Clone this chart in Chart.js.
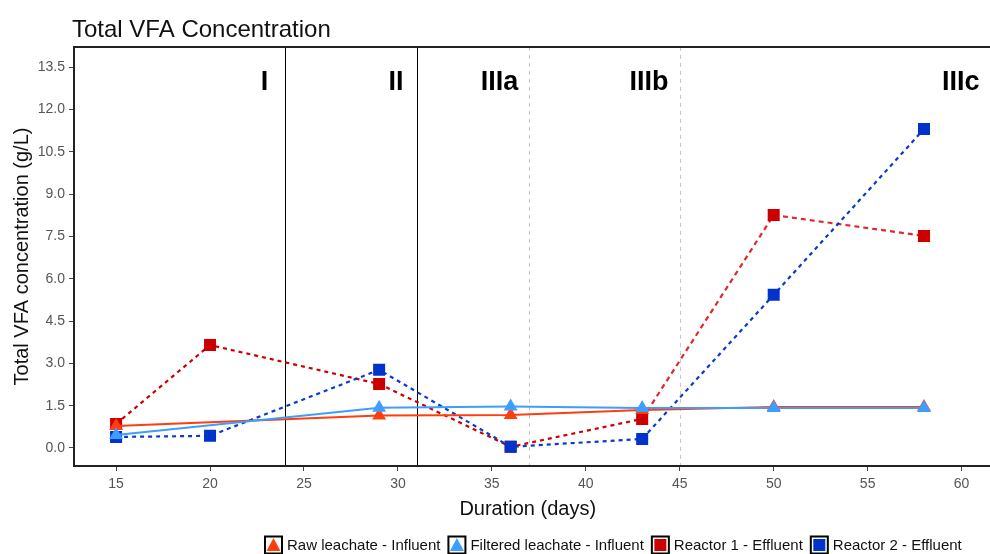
<!DOCTYPE html>
<html>
<head>
<meta charset="utf-8">
<script src="https://cdn.jsdelivr.net/npm/chart.js@4/dist/chart.umd.min.js"></script>
<style>
  html, body { margin: 0; padding: 0; background: #fff; }
  #wrap { width: 990px; height: 554px; }
</style>
</head>
<body>
<div id="wrap"><canvas id="chart" width="990" height="554"></canvas></div>
<script>
// sampling days
const days = [15, 20, 29, 36, 43, 50, 58];

// total VFA (g/L)
const rawLeachate      = [0.78, null, 1.15, 1.17, 1.35, 1.45, 1.45];
const filteredLeachate = [0.46, null, 1.43, 1.47, 1.42, 1.42, 1.42];
const reactor1         = [0.85, 3.65, 2.27, 0.04, 1.03, 8.26, 7.52];
const reactor2         = [0.39, 0.43, 2.77, 0.04, 0.32, 5.43, 11.31];

// axis ticks
const xTicks = [15, 20, 25, 30, 35, 40, 45, 50, 55, 60];
const yTicks = [0, 1.5, 3, 4.5, 6, 7.5, 9, 10.5, 12, 13.5];

// phase boundaries and labels
const phaseSolid = [24, 31];
const phaseDashed = [37, 45];
const phaseNames = ['I', 'II', 'IIIa', 'IIIb', 'IIIc'];
const phaseNameX = [23.1, 30.3, 36.4, 44.4, 60.95];

const FONT = "'Liberation Sans', Arial, sans-serif";

const toXY = (vals) => days.map((d, i) => ({ x: d, y: vals[i] })).filter(p => p.y !== null);

// phase lines, phase names, frame, title and legend
const decorations = {
  id: 'decorations',
  beforeDatasetsDraw(chart) {
    const { ctx, chartArea: a, scales: { x, y } } = chart;
    ctx.save();
    ctx.lineWidth = 1;
    ctx.strokeStyle = '#000';
    phaseSolid.forEach(v => {
      const px = Math.round(x.getPixelForValue(v)) + 0.5;
      ctx.beginPath(); ctx.moveTo(px, a.top); ctx.lineTo(px, a.bottom); ctx.stroke();
    });
    ctx.strokeStyle = '#c8c8c8';
    ctx.setLineDash([4, 4]);
    phaseDashed.forEach(v => {
      const px = Math.round(x.getPixelForValue(v)) + 0.5;
      ctx.beginPath(); ctx.moveTo(px, a.top); ctx.lineTo(px, a.bottom); ctx.stroke();
    });
    ctx.setLineDash([]);
    ctx.fillStyle = '#000';
    ctx.font = 'bold 27px ' + FONT;
    ctx.textAlign = 'right';
    ctx.textBaseline = 'alphabetic';
    phaseNames.forEach((t, i) => {
      ctx.fillText(t, x.getPixelForValue(phaseNameX[i]), y.getPixelForValue(12.7));
    });
    ctx.restore();
  },
  afterDraw(chart) {
    const { ctx, chartArea: a } = chart;
    ctx.save();
    // panel frame
    ctx.strokeStyle = '#222';
    ctx.lineWidth = 2;
    ctx.beginPath();
    ctx.moveTo(chart.width, a.top);
    ctx.lineTo(a.left, a.top);
    ctx.lineTo(a.left, a.bottom);
    ctx.lineTo(chart.width, a.bottom);
    ctx.stroke();

    // title
    ctx.fillStyle = '#111';
    ctx.font = '24px ' + FONT;
    ctx.textAlign = 'left';
    ctx.textBaseline = 'alphabetic';
    ctx.fillText('Total VFA Concentration', 72, 37);

    // legend
    ctx.font = '15px ' + FONT;
    ctx.textBaseline = 'middle';
    let lx = 265;
    const cy = 545, box = 17;
    chart.data.datasets.forEach(ds => {
      ctx.fillStyle = '#fff';
      ctx.fillRect(lx, cy - box / 2, box, box);
      ctx.fillStyle = ds.pointBackgroundColor;
      const cx = lx + box / 2;
      if (ds.pointStyle === 'triangle') {
        ctx.beginPath();
        ctx.moveTo(cx, cy - 7);
        ctx.lineTo(cx + 7, cy + 6);
        ctx.lineTo(cx - 7, cy + 6);
        ctx.closePath();
        ctx.fill();
      } else {
        ctx.fillRect(cx - 6, cy - 6, 12, 12);
      }
      ctx.strokeStyle = '#000';
      ctx.lineWidth = 2;
      ctx.strokeRect(lx, cy - box / 2, box, box);
      ctx.fillStyle = '#111';
      ctx.fillText(ds.label, lx + box + 5, cy + 1);
      lx += box + 5 + ctx.measureText(ds.label).width + 8;
    });
    ctx.restore();
  }
};

new Chart(document.getElementById('chart'), {
  type: 'line',
  data: {
    datasets: [
      {
        label: 'Raw leachate - Influent',
        data: toXY(rawLeachate),
        borderColor: '#ff3d0d',
        backgroundColor: '#ff3d0d',
        pointBackgroundColor: '#ff3d0d',
        pointStyle: 'triangle',
        pointRadius: 8,
        pointBorderWidth: 0,
        borderWidth: 2,
        order: 2
      },
      {
        label: 'Filtered leachate - Influent',
        data: toXY(filteredLeachate),
        borderColor: '#3d9eff',
        backgroundColor: '#3d9eff',
        pointBackgroundColor: '#3d9eff',
        pointStyle: 'triangle',
        pointRadius: 8,
        pointBorderWidth: 0,
        borderWidth: 2,
        order: 1
      },
      {
        label: 'Reactor 1 - Effluent',
        data: toXY(reactor1),
        borderColor: '#cc0000',
        backgroundColor: '#cc0000',
        pointBackgroundColor: '#cc0000',
        pointStyle: 'rect',
        pointRadius: 8.5,
        pointBorderWidth: 0,
        borderWidth: 2.2,
        borderDash: [4, 4],
        segment: {
          borderDash: ctx => ctx.p0DataIndex >= 4 ? [5, 4] : [4, 4],
          borderColor: ctx => ctx.p0DataIndex >= 4 ? '#e0282d' : '#cc0000'
        },
        order: 4
      },
      {
        label: 'Reactor 2 - Effluent',
        data: toXY(reactor2),
        borderColor: '#0a3acc',
        backgroundColor: '#0033cc',
        pointBackgroundColor: '#0033cc',
        pointStyle: 'rect',
        pointRadius: 8.5,
        pointBorderWidth: 0,
        borderWidth: 2.2,
        borderDash: [4, 4],
        order: 3
      }
    ]
  },
  options: {
    responsive: false,
    animation: false,
    layout: { padding: { top: 47, right: 0, bottom: 0, left: 0 } },
    plugins: {
      legend: { display: false },
      title: { display: false },
      tooltip: { enabled: false }
    },
    scales: {
      x: {
        type: 'linear',
        min: 12.76,
        max: 61.06,
        afterFit: s => { s.height = 88; },
        afterBuildTicks: s => { s.ticks = xTicks.map(v => ({ value: v })); },
        grid: { drawOnChartArea: false, tickLength: 5, color: '#444' },
        border: { display: false },
        ticks: {
          padding: 5,
          color: '#555',
          font: { family: FONT, size: 14 },
          maxRotation: 0,
          callback: v => String(v)
        },
        title: {
          display: true,
          text: 'Duration (days)',
          color: '#111',
          font: { family: FONT, size: 20 },
          padding: { top: 4, bottom: 33 }
        }
      },
      y: {
        type: 'linear',
        min: -0.64,
        max: 14.22,
        afterFit: s => { s.width = 74; },
        afterBuildTicks: s => { s.ticks = yTicks.map(v => ({ value: v })); },
        grid: { drawOnChartArea: false, tickLength: 5, color: '#444' },
        border: { display: false },
        ticks: {
          padding: 4,
          color: '#555',
          font: { family: FONT, size: 14 },
          callback: v => Number(v).toFixed(1)
        },
        title: {
          display: true,
          text: 'Total VFA concentration (g/L)',
          color: '#111',
          font: { family: FONT, size: 20 },
          padding: { top: 10, bottom: 4 }
        }
      }
    }
  },
  plugins: [decorations]
});
</script>
</body>
</html>
